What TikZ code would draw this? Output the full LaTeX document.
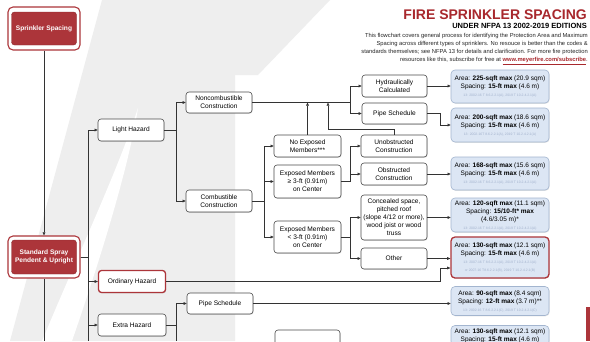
\documentclass[tikz,border=0pt]{standalone}
\usepackage{fontspec}
\setmainfont{Liberation Sans}
\usetikzlibrary{arrows.meta,shadows,calc}
\definecolor{kred}{HTML}{AC353A}
\definecolor{tred}{HTML}{A8282D}
\definecolor{areafill}{HTML}{DCE6F4}
\definecolor{areadraw}{HTML}{A3B5CF}
\definecolor{refc}{HTML}{A2B1CC}
\definecolor{nodedraw}{HTML}{4A4A4A}
\definecolor{linec}{HTML}{333333}
\definecolor{wm}{HTML}{EEEEEE}
\newcommand\refl[1]{{\fontsize{3.4}{6}\selectfont\color{refc}#1}}
\tikzset{
  base/.style={font=\fontsize{6.6}{8}\selectfont, align=center, inner sep=1pt},
  proc/.style={base, draw=nodedraw, line width=0.6pt, rounded corners=3pt, fill=white,
    minimum width=66pt, minimum height=22pt,
    drop shadow={opacity=0.25, shadow xshift=0.6pt, shadow yshift=-0.8pt}},
  redproc/.style={proc, draw=kred, line width=1.3pt},
  keyout/.style={draw=kred, line width=1.1pt, rounded corners=5pt, fill=white,
    minimum width=72pt, minimum height=43pt},
  keyin/.style={base, fill=kred, draw=kred!80!black, line width=0.4pt, rounded corners=3pt, text=white,
    font=\fontsize{6.6}{8.2}\selectfont\bfseries, minimum width=65pt, minimum height=33pt},
  area/.style={base, font=\fontsize{6.5}{8}\selectfont, draw=areadraw, fill=areafill, line width=0.6pt,
    rounded corners=4pt, minimum width=98pt, minimum height=33pt,
    drop shadow={opacity=0.2, shadow xshift=0.6pt, shadow yshift=-0.8pt}},
  ln/.style={draw=linec, line width=0.6pt},
  ar/.style={ln, -{Triangle[length=3.2pt,width=2.8pt]}},
}
\begin{document}
\begin{tikzpicture}[x=1pt,y=-1pt]
\useasboundingbox (0,0) rectangle (590,341);
\clip (0,0) rectangle (590,341);
\fill[white] (0,0) rectangle (590,341);
% watermark
\fill[wm] (102,0) -- (330,0) -- (258,75) -- (235,75) -- (235,341) -- (10,341) -- cycle;
\fill[white] (138,108) .. controls (128,170) and (100,260) .. (72,341) -- (42,341)
  .. controls (80,250) and (118,170) .. (138,108) -- cycle;

% title
\node[anchor=base east, font=\fontsize{14}{16}\selectfont\bfseries, text=tred, inner sep=0] (title) at (587,19) {FIRE SPRINKLER SPACING};
\node[anchor=base east, font=\fontsize{7.5}{9}\selectfont\bfseries, inner sep=0] (sub) at (587,28) {UNDER NFPA 13 2002-2019 EDITIONS};
\tikzset{para/.style={anchor=base east, font=\fontsize{5.8}{7}\selectfont, inner sep=0, text=black!85}}
\node[para] (p1) at (588,37) {This flowchart covers general process for identifying the Protection Area and Maximum};
\node[para] (p2) at (588,45.5) {Spacing across different types of sprinklers. No resouce is better than the codes \&};
\node[para] (p3) at (588,53.5) {standards themselves; see NFPA 13 for details and clarification. For more fire protection};
\node[para] (p4) at (588,61.5) {resources like this, subscribe for free at {\color{tred}\bfseries\underline{www.meyerfire.com/subscribe}}.};

% key boxes
\node[keyout] (ssO) at (44,28.5) {};
\node[keyin] (ss) at (44,28.5) {Sprinkler Spacing};
\node[keyout, minimum height=42pt] (stdO) at (44,257) {};
\node[keyin, minimum height=34pt] (std) at (44,257) {Standard Spray\\Pendent \& Upright};

% hazards
\node[proc] (light) at (131,130) {Light Hazard};
\node[redproc, minimum width=67pt, minimum height=22pt] (ord) at (132,281.5) {Ordinary Hazard};
\node[proc, minimum width=68pt] (extra) at (132,325) {Extra Hazard};

% construction
\node[proc, minimum height=21pt] (noncomb) at (219,102.5) {Noncombustible\\Construction};
\node[proc] (comb) at (219,201) {Combustible\\Construction};
\node[proc, minimum height=21pt] (pipe2) at (220,303.5) {Pipe Schedule};

\node[proc, minimum width=67pt] (noexp) at (307.5,146) {No Exposed\\Members***};
\node[proc, minimum width=67pt, minimum height=33pt] (expge) at (307.5,181.5) {Exposed Members\\≥ 3-ft (0.91m)\\on Center};
\node[proc, minimum width=67pt, minimum height=32pt] (explt) at (307.5,237) {Exposed Members\\< 3-ft (0.91m)\\on Center};
\node[proc, minimum width=65pt, minimum height=40pt] (part) at (307.5,350) {};

\node[proc, minimum width=65pt] (hyd) at (394.5,86) {Hydraulically\\Calculated};
\node[proc, minimum width=65pt, minimum height=21pt] (pipe1) at (394.5,113.5) {Pipe Schedule};
\node[proc] (unob) at (394,146) {Unobstructed\\Construction};
\node[proc] (obs) at (394,174) {Obstructed\\Construction};
\node[proc, minimum height=45pt] (conc) at (394,217.5) {Concealed space,\\pitched roof\\(slope 4/12 or more),\\wood joist or wood\\truss};
\node[proc, minimum height=21pt] (other) at (394,258.5) {Other};

% area boxes
\node[area] (A1) at (500,86.5) {Area: \textbf{225-sqft max} (20.9 sqm)\\Spacing: \textbf{15-ft max} (4.6 m)\\\refl{13: 2002-16 T 8.6.2.2.1(A), 2019 T 10.2.4.2.1(A)}};
\node[area, minimum height=34pt] (A2) at (500,125) {Area: \textbf{200-sqft max} (18.6 sqm)\\Spacing: \textbf{15-ft max} (4.6 m)\\\refl{13: 2002-16T 8.6.2.2.1(A), 2019 T 10.2.4.2.1(A)}};
\node[area] (A3) at (500,173.5) {Area: \textbf{168-sqft max} (15.6 sqm)\\Spacing: \textbf{15-ft max} (4.6 m)\\\refl{13: 2002-16 T 8.6.2.2.1(A), 2019 T 10.2.4.2.1(A)}};
\node[area, minimum height=34pt] (A4) at (500,215) {Area: \textbf{120-sqft max} (11.1 sqm)\\Spacing: \textbf{15/10-ft* max}\\(4.6/3.05 m)*\\\refl{13: 2002-16 T 8.6.2.2.1(A), 2019 T 10.2.4.2.1(A)}};
\node[area, draw=kred, line width=1.3pt, minimum height=41pt] (A5) at (500,257.5) {Area: \textbf{130-sqft max} (12.1 sqm)\\Spacing: \textbf{15-ft max} (4.6 m)\\\refl{13: 2007-16 T 8.6.2.2.1(A), 2019 T 10.2.4.2.1(A)}\\\refl{or 2007-16 T8.6.2.2.1(B), 2019 T 10.2.4.2.1(B)}};
\node[area, minimum height=29pt] (A6) at (500,301) {Area: \textbf{90-sqft max} (8.4 sqm)\\Spacing: \textbf{12-ft max} (3.7 m)**\\\refl{13: 2002-16 T 8.6.2.2.1(C), 2019 T 10.2.4.2.1(C)}};
\node[area, minimum height=20pt] (A7) at (500,335.5) {Area: \textbf{130-sqft max} (12.1 sqm)\\Spacing: \textbf{15-ft max} (4.6 m)};

\fill[kred] (586,307) rectangle (590,341);

% coordinates
\coordinate (bot1) at (44,341);
\coordinate (bot2) at (88,341);
\coordinate (bot3) at (176,341);
\coordinate (mergeU) at (328,102.5);
\coordinate (ordUp) at (440,268);

% connectors
\draw[ar] (ssO.south) -- (stdO.north);
\draw[ln] (stdO.south) -- (bot1);
\draw[ln] (stdO.east) -| (bot2);
\draw[ar] (stdO.east) -- ++(8,0) |- (light.west);
\draw[ar] (stdO.east) -- ++(8,0) |- (ord.west);
\draw[ar] (stdO.east) -- ++(8,0) |- (extra.west);

\draw[ar] (light.east) -- ++(12,0) |- (noncomb.west);
\draw[ar] (light.east) -- ++(12,0) |- (comb.west);

\draw[ar] (noncomb.east) -- ++(98,0) |- (hyd.west);
\draw[ar] (noncomb.east) -- ++(98,0) |- (pipe1.west);
\draw[ar] (noexp.north) -- (noexp.north |- noncomb.east);
\draw[ar] (unob.north) -- ++(0,-5) -| (mergeU);

\draw[ar] (comb.east) -- ++(12,0) |- (noexp.west);
\draw[ar] (comb.east) -- ++(12,0) |- (expge.west);
\draw[ar] (comb.east) -- ++(12,0) |- (explt.west);

\draw[ar] (expge.east) -- ++(9,0) |- (unob.west);
\draw[ar] (expge.east) -- ++(9,0) |- (obs.west);
\draw[ar] (explt.east) -- ++(9,0) |- (conc.west);
\draw[ar] (explt.east) -- ++(9,0) |- (other.west);

\draw[ar] (hyd.east) -- (A1.west |- hyd.east);
\draw[ar] (pipe1.east) -- ++(13,0) |- (A2.west);
\draw[ar] (obs.east) -- (A3.west |- obs.east);
\draw[ar] (conc.east) -- (A4.west |- conc.east);
\draw[ar] (other.east) -- (A5.west |- other.east);
\draw[ar] (ord.east) -| (ordUp) -- (ordUp -| A5.west);

\draw[ar] (extra.east) -- ++(10,0) |- (pipe2.west);
\draw[ln] (extra.east) -| (bot3);
\draw[ar] (pipe2.east) -- (A6.west |- pipe2.east);
\end{tikzpicture}
\end{document}
